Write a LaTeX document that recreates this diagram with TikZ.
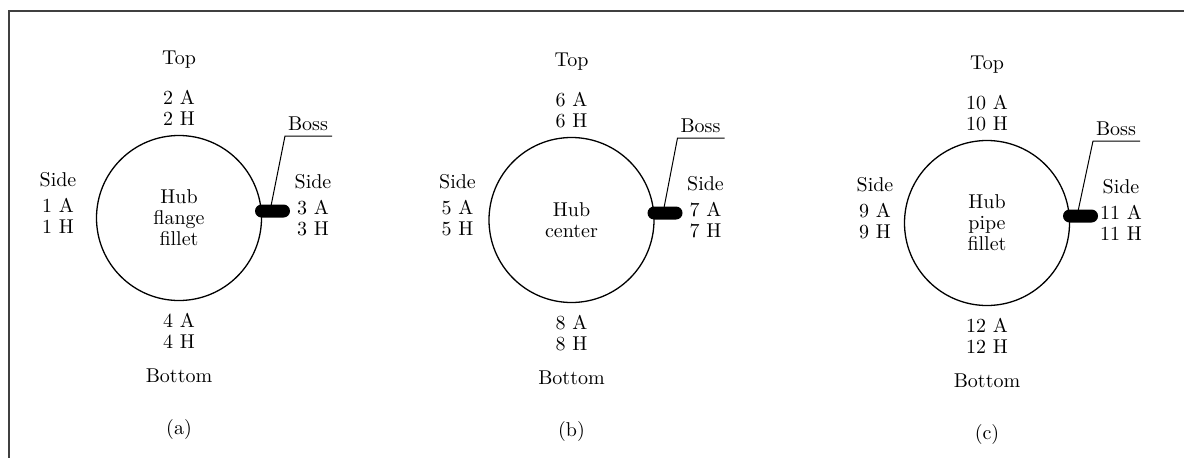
\documentclass[tikz,border=0pt]{standalone}
\usepackage{fontspec}
\setmainfont{lmroman10-regular.otf}
\usepackage{xcolor}
\definecolor{cFrame}{HTML}{404040}
\usepackage{tikz}
\usetikzlibrary{positioning}
\tikzset{
  hub-circle/.style={draw,circle,line width=1.3pt,minimum size=165pt,
    inner sep=0pt,align=center},
  hub-label/.style={align=center,inner sep=0pt},
  boss-bar/.style={fill=black,rounded corners=6.5pt,minimum width=35pt,
    minimum height=13pt,inner sep=0pt},
  leader/.style={line width=1pt},
  panel-frame/.style={draw=cFrame,line width=1.5pt},
}
% one hub view: name, shift, centre text, top, left, right, bottom, left x
\newcommand{\hubpanel}[8]{%
  \begin{scope}[shift={#2}]
    \node[hub-circle] (#1-hub) at (0,0) {#3};
    \node[hub-label] (#1-top) at (0,-158) {Top};
    \node[hub-label] (#1-ta)  at (0,-110) {#4};
    \node[hub-label] (#1-ls)  at (#8,-38) {Side};
    \node[hub-label] (#1-la)  at (#8,-2) {#5};
    \node[hub-label] (#1-rs)  at (134,-36) {Side};
    \node[hub-label] (#1-ra)  at (134,0) {#6};
    \node[hub-label] (#1-ba)  at (0,113) {#7};
    \node[hub-label] (#1-bot) at (0,158) {Bottom};
    \node[hub-label] (#1-cap) at (0,211) {(#1)};
    \node[hub-label] (#1-boss) at (129,-94) {Boss};
    \coordinate (#1-knee) at (106,-82);
    \coordinate (#1-end) at (153,-82);
    \draw[leader] (#1-bar-foot) -- (#1-knee) -- (#1-end);
    \node[boss-bar] (#1-bar) at (93.5,-7) {};
  \end{scope}}

\begin{document}
\begin{tikzpicture}[x=1pt,y=-1pt,font=\fontsize{20}{21}\selectfont]
  \useasboundingbox (0,0) rectangle (1184,458);
  \draw[panel-frame] (9,458) -- (9,11) -- (1184,11);

  \coordinate (a-bar-foot) at (270,211);
  \hubpanel{a}{(179,218)}{Hub\\flange\\fillet}{2 A\\2 H}{1 A\\1 H}{3 A\\3 H}{4 A\\4 H}{-121}
  \coordinate (b-bar-foot) at (663,213);
  \hubpanel{b}{(571.5,220)}{Hub\\center}{6 A\\6 H}{5 A\\5 H}{7 A\\7 H}{8 A\\8 H}{-114}
  \coordinate (c-bar-foot) at (1077,216);
  \hubpanel{c}{(987,223)}{Hub\\pipe\\fillet}{10 A\\10 H}{9 A\\9 H}{11 A\\11 H}{12 A\\12 H}{-112}
\end{tikzpicture}
\end{document}
